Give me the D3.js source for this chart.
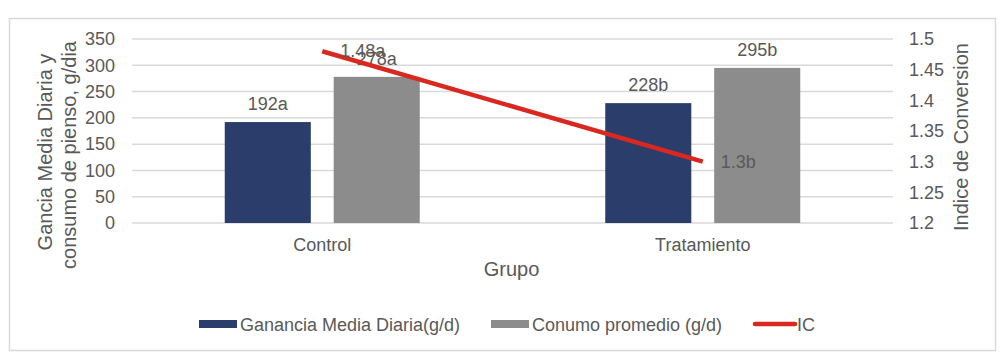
<!DOCTYPE html>
<html>
<head>
<meta charset="utf-8">
<script src="https://cdn.jsdelivr.net/npm/d3@7/dist/d3.min.js"></script>
<style>
  html, body { margin: 0; padding: 0; background: #fff; }
  svg { display: block; font-family: "Liberation Sans", Arial, sans-serif; }
</style>
</head>
<body>
<svg id="chart" width="1000" height="363"></svg>
<script>
const categories = ["Control", "Tratamiento"];
const seriesNames = ["Ganancia Media Diaria(g/d)", "Conumo promedio (g/d)"];
const gananciaValues = [192, 228];
const consumoValues = [278, 295];
const barLabels = [["192a", "228b"], ["278a", "295b"]];
const icValues = [1.48, 1.3];
const icLabels = ["1.48a", "1.3b"];
const leftTicks = [0, 50, 100, 150, 200, 250, 300, 350];
const rightTicks = [1.2, 1.25, 1.3, 1.35, 1.4, 1.45, 1.5];

const colors = { ganancia: "#2b3d6b", consumo: "#8c8c8c", ic: "#d8281f", text: "#595959", grid: "#d9d9d9" };

const svg = d3.select("#chart");
const plot = { left: 132, right: 893, top: 39, bottom: 223 };

// border
svg.append("rect").attr("x", 9.5).attr("y", 18.5).attr("width", 986).attr("height", 332)
  .attr("fill", "#fff").attr("stroke", "#d9d9d9").attr("stroke-width", 1.5);

const x0 = d3.scaleBand().domain(categories).range([plot.left, plot.right]).paddingInner(0).paddingOuter(0);
const x1 = d3.scaleBand().domain(seriesNames).range([-97.5, 97.5]).paddingInner(23 / 109.5).paddingOuter(0);
const yL = d3.scaleLinear().domain([0, 350]).range([plot.bottom, plot.top]);
const yR = d3.scaleLinear().domain([1.2, 1.5]).range([plot.bottom, plot.top]);

// gridlines
svg.append("g").selectAll("line").data(leftTicks).join("line")
  .attr("x1", plot.left).attr("x2", plot.right)
  .attr("y1", d => yL(d)).attr("y2", d => yL(d))
  .attr("stroke", colors.grid).attr("stroke-width", 1.5);

// left axis
const axL = d3.axisLeft(yL).tickValues(leftTicks).tickSize(0).tickPadding(0).tickFormat(d3.format("d"));
const gL = svg.append("g").attr("transform", `translate(115,0)`).call(axL);
gL.select(".domain").remove();
gL.selectAll("text").attr("font-size", 18).attr("fill", colors.text).attr("font-family", "Liberation Sans, Arial, sans-serif");

// right axis
const axR = d3.axisRight(yR).tickValues(rightTicks).tickSize(0).tickPadding(0).tickFormat(d => String(d));
const gR = svg.append("g").attr("transform", `translate(909,0)`).call(axR);
gR.select(".domain").remove();
gR.selectAll("text").attr("font-size", 18).attr("fill", colors.text).attr("font-family", "Liberation Sans, Arial, sans-serif");

// x axis labels
const axX = d3.axisBottom(x0).tickSize(0).tickPadding(0);
const gX = svg.append("g").attr("transform", `translate(0,${plot.bottom})`).call(axX);
gX.select(".domain").remove();
gX.selectAll("text").attr("font-size", 18).attr("fill", colors.text).attr("dy", null).attr("y", 28)
  .attr("font-family", "Liberation Sans, Arial, sans-serif");

// bars
const seriesData = [gananciaValues, consumoValues];
const seriesColors = [colors.ganancia, colors.consumo];
seriesData.forEach((vals, si) => {
  const g = svg.append("g");
  g.selectAll("rect").data(vals).join("rect")
    .attr("x", (d, i) => x0(categories[i]) + x0.bandwidth() / 2 + x1(seriesNames[si]))
    .attr("width", x1.bandwidth())
    .attr("y", d => yL(d))
    .attr("height", d => yL(0) - yL(d))
    .attr("fill", seriesColors[si]);
  g.selectAll("text").data(vals).join("text")
    .attr("x", (d, i) => x0(categories[i]) + x0.bandwidth() / 2 + x1(seriesNames[si]) + x1.bandwidth() / 2)
    .attr("y", d => yL(d) - 12)
    .attr("text-anchor", "middle").attr("font-size", 18).attr("fill", colors.text)
    .text((d, i) => barLabels[si][i]);
});

// IC line
const cx = c => x0(c) + x0.bandwidth() / 2;
const line = d3.line().x((d, i) => cx(categories[i])).y(d => yR(d));
svg.append("path").datum(icValues).attr("d", line)
  .attr("fill", "none").attr("stroke", colors.ic).attr("stroke-width", 4.5);
svg.append("g").selectAll("text").data(icValues).join("text")
  .attr("x", (d, i) => cx(categories[i]) + 18)
  .attr("y", d => yR(d) + 6)
  .attr("font-size", 18).attr("fill", colors.text)
  .text((d, i) => icLabels[i]);

// axis titles
svg.append("text").attr("transform", "translate(52,152) rotate(-90)")
  .attr("text-anchor", "middle").attr("font-size", 20).attr("fill", colors.text)
  .text("Gancia Media Diaria y");
svg.append("text").attr("transform", "translate(76,155) rotate(-90)")
  .attr("text-anchor", "middle").attr("font-size", 20).attr("fill", colors.text)
  .text("consumo de pienso, g/dia");
svg.append("text").attr("transform", "translate(968,137) rotate(-90)")
  .attr("text-anchor", "middle").attr("font-size", 20).attr("fill", colors.text)
  .text("Indice de Conversion");
svg.append("text").attr("x", (plot.left + plot.right) / 2 - 1).attr("y", 276)
  .attr("text-anchor", "middle").attr("font-size", 20).attr("fill", colors.text)
  .text("Grupo");

// legend
const legend = svg.append("g");
const legItems = [
  { type: "rect", color: colors.ganancia, x: 199, label: seriesNames[0] },
  { type: "rect", color: colors.consumo, x: 491, label: seriesNames[1] },
  { type: "line", color: colors.ic, x: 755, label: "IC" }
];
legItems.forEach(it => {
  if (it.type === "rect") {
    legend.append("rect").attr("x", it.x).attr("y", 320).attr("width", 38).attr("height", 8).attr("fill", it.color);
  } else {
    legend.append("line").attr("x1", it.x).attr("x2", it.x + 40).attr("y1", 324).attr("y2", 324)
      .attr("stroke", it.color).attr("stroke-width", 4.5).attr("stroke-linecap", "round");
  }
  legend.append("text").attr("x", it.x + (it.type === "rect" ? 41 : 42)).attr("y", 331)
    .attr("font-size", 18).attr("fill", colors.text).text(it.label);
});
</script>
</body>
</html>
